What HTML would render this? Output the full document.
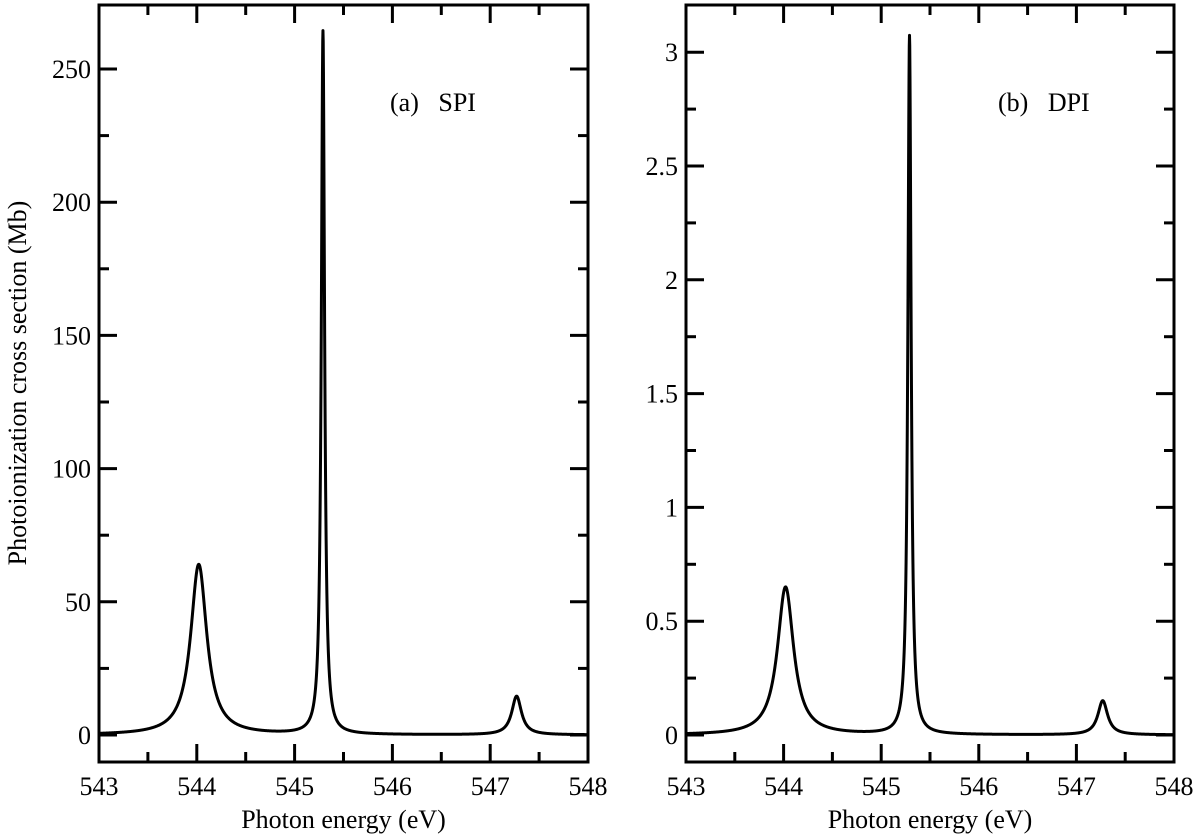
<!DOCTYPE html>
<html><head><meta charset="utf-8"><style>
html,body{margin:0;padding:0;background:#fff;}
svg{display:block;font-family:"Liberation Serif",serif;}
</style></head><body>
<svg id="chart" width="1200" height="835" viewBox="0 0 1200 835"></svg>
<script>
const xTicks = [543, 544, 545, 546, 547, 548];
const peakCenters = [544.02, 545.29, 547.27];
const spiHeights = [64, 264, 14.5];
const dpiHeights = [0.65, 3.07, 0.15];
const peakWidths = [0.1, 0.02, 0.06];
const spiTicks = [0, 50, 100, 150, 200, 250];
const spiTickLabels = ["0", "50", "100", "150", "200", "250"];
const dpiTicks = [0, 0.5, 1, 1.5, 2, 2.5, 3];
const dpiTickLabels = ["0", "0.5", "1", "1.5", "2", "2.5", "3"];

const NS = "http://www.w3.org/2000/svg";
const svg = document.getElementById("chart");
function mk(tag, attrs, parent) {
  const e = document.createElementNS(NS, tag);
  for (const k in attrs) e.setAttribute(k, attrs[k]);
  (parent || svg).appendChild(e);
  return e;
}
function panel(opt) {
  const g = mk("g", {});
  
  
  const L = opt.left, R = opt.right, T = 5, B = 762;
  const xs = v => L + (v - 543) / 5 * (R - L);
  const ys = v => opt.y0 - v * opt.ppu;
  // curve
  let d = "";
  for (let i = 0; i <= 2000; i++) {
    const x = 543 + 5 * i / 2000;
    let y = 0;
    for (let k = 0; k < peakCenters.length; k++) {
      const w = peakWidths[k], dx = x - peakCenters[k];
      y += opt.heights[k] * w * w / (w * w + dx * dx);
    }
    d += (i ? "L" : "M") + xs(x).toFixed(2) + "," + ys(y).toFixed(2);
  }
  const c = mk("path", {d: d, fill: "none", stroke: "#000", "stroke-width": 3, "stroke-linejoin": "round"}, g);
  
  
  // frame
  const f = mk("rect", {x: L, y: T, width: R - L, height: B - T, fill: "none", stroke: "#000", "stroke-width": 3}, g);
  
  
  // x ticks
  for (let i = 0; i < xTicks.length; i++) {
    const x = xs(xTicks[i]);
    mk("line", {x1: x, x2: x, y1: B, y2: B - 18, stroke: "#000", "stroke-width": 3}, g);
    mk("line", {x1: x, x2: x, y1: T, y2: T + 18, stroke: "#000", "stroke-width": 3}, g);
    if (i < xTicks.length - 1) {
      const xm = xs(xTicks[i] + 0.5);
      mk("line", {x1: xm, x2: xm, y1: B, y2: B - 10, stroke: "#000", "stroke-width": 3}, g);
      mk("line", {x1: xm, x2: xm, y1: T, y2: T + 10, stroke: "#000", "stroke-width": 3}, g);
    }
    const t = mk("text", {x: x, y: 795, "text-anchor": "middle", "font-size": 26}, g);
    t.textContent = xTicks[i];
    
    
  }
  // y ticks
  const step = opt.yTicks[1] - opt.yTicks[0];
  for (let i = 0; i < opt.yTicks.length; i++) {
    const y = ys(opt.yTicks[i]);
    mk("line", {x1: L, x2: L + 18, y1: y, y2: y, stroke: "#000", "stroke-width": 3}, g);
    mk("line", {x1: R, x2: R - 18, y1: y, y2: y, stroke: "#000", "stroke-width": 3}, g);
    const t = mk("text", {x: L - 8, y: y + 9, "text-anchor": "end", "font-size": 26}, g);
    t.textContent = opt.yLabels[i];
    
    
    const ym = ys(opt.yTicks[i] + step / 2);
    if (ym > T + 2) {
      mk("line", {x1: L, x2: L + 10, y1: ym, y2: ym, stroke: "#000", "stroke-width": 3}, g);
      mk("line", {x1: R, x2: R - 10, y1: ym, y2: ym, stroke: "#000", "stroke-width": 3}, g);
    }
  }
  const ym0 = ys(-step / 2);
  if (ym0 < B - 2) {
    mk("line", {x1: L, x2: L + 10, y1: ym0, y2: ym0, stroke: "#000", "stroke-width": 3}, g);
    mk("line", {x1: R, x2: R - 10, y1: ym0, y2: ym0, stroke: "#000", "stroke-width": 3}, g);
  }
  const xt = mk("text", {x: (L + R) / 2, y: 828, "text-anchor": "middle", "font-size": 26}, g);
  xt.textContent = "Photon energy (eV)";
  
  
  const lab = mk("text", {x: opt.labelX, y: 111, "font-size": 26}, g);
  lab.textContent = opt.label;
  
  
}
panel({name: "panel-spi", left: 99, right: 588, y0: 735, ppu: 133.2 / 50, heights: spiHeights, yTicks: spiTicks, yLabels: spiTickLabels, label: "(a)\u00a0\u00a0 SPI", labelX: 390});
panel({name: "panel-dpi", left: 686, right: 1174, y0: 735, ppu: 113.8 / 0.5, heights: dpiHeights, yTicks: dpiTicks, yLabels: dpiTickLabels, label: "(b)\u00a0\u00a0 DPI", labelX: 998});
const yt = mk("text", {x: 0, y: 0, "text-anchor": "middle", "font-size": 26, transform: "translate(26,383) rotate(-90)"});
yt.textContent = "Photoionization cross section (Mb)";


</script>
</body></html>
